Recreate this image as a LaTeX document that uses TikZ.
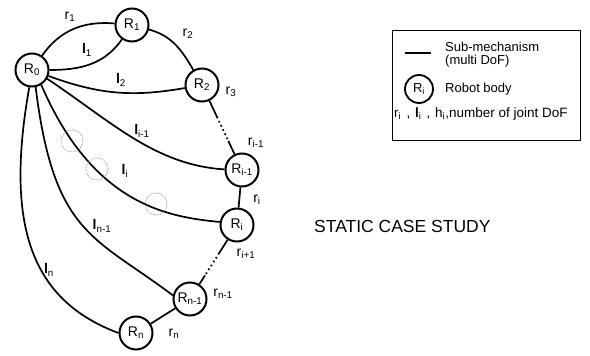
\documentclass[tikz,border=0pt]{standalone}
\usepackage{fontspec}
\setmainfont{Liberation Sans}
\newcommand{\sbs}[1]{\textsubscript{#1}}
\newcommand{\lnk}{\textbf{l}}
\begin{document}
\begin{tikzpicture}[x=1pt,y=-1pt,
 body/.style={circle,draw,line width=2pt,minimum size=33pt,inner sep=0pt,font=\fontsize{14}{14}\selectfont},
 link/.style={line width=1.7pt},
 dotline/.style={line width=1.8pt,dash pattern=on 1.6pt off 3pt},
 lbl/.style={font=\fontsize{14}{14}\selectfont, inner sep=0pt},
 dotc/.style={circle,draw=gray!80,densely dotted,line width=0.8pt,minimum size=22pt,inner sep=0pt},
 legtext/.style={anchor=west,inner sep=0pt,font=\fontsize{13}{13.5}\selectfont,align=left}]
\useasboundingbox (0,0) rectangle (590,356);
% bodies
\node[body] (R0) at (32,70) {R\sbs{0}};
\node[body] (R1) at (132,25) {R\sbs{1}};
\node[body] (R2) at (202,85) {R\sbs{2}};
\node[body] (Ri1) at (242,170) {R\sbs{i-1}};
\node[body] (Ri) at (237,225) {R\sbs{i}};
\node[body] (Rn1) at (190,299) {R\sbs{n-1}};
\node[body] (Rn) at (136,333) {R\sbs{n}};
% links
\draw[link] (R0) to[out=55,in=175] (R1);
\draw[link] (R0) to[out=0,in=235] (R1);
\draw[link] (R1) to[out=-15,in=120] (R2);
\draw[link] (R0) to[out=-20,in=190] (R2);
\draw[link] (R0.-30) .. controls (112,122) and (155,165) .. (Ri1.178);
\draw[link] (R0.-58) .. controls (93,205) and (168,217) .. (Ri.170);
\draw[link] (R0.-78) .. controls (54,235) and (94,236) .. (Rn1.168);
\draw[link] (R0.-99) .. controls (5,224) and (30,300) .. (Rn.180);
\draw[link] (Ri1) -- (Ri);
\draw[link] (Rn1) -- (Rn);
% partly dotted
\path (R2) -- coordinate[pos=0.3] (r3a) coordinate[pos=0.75] (r3b) (Ri1);
\draw[link] (R2) -- (r3a);
\draw[dotline] (r3a) -- (r3b);
\draw[link] (r3b) -- (Ri1);
\path (Ri) -- coordinate[pos=0.3] (rna) coordinate[pos=0.8] (rnb) (Rn1);
\draw[link] (Ri) -- (rna);
\draw[dotline] (rna) -- (rnb);
\draw[link] (rnb) -- (Rn1);
% dotted circles
\node[dotc] (c1) at (72,141) {};
\node[dotc] (c2) at (97,169) {};
\node[dotc] (c3) at (156,204) {};
% labels
\node[lbl] (lr1) at (70,17) {r\sbs{1}};
\node[lbl] (ll1) at (87,50) {\lnk\sbs{1}};
\node[lbl] (lr2) at (188,34) {r\sbs{2}};
\node[lbl] (ll2) at (121,80) {\lnk\sbs{2}};
\node[lbl] (lr3) at (231,92) {r\sbs{3}};
\node[lbl] (lli1) at (142,131) {\lnk\sbs{i-1}};
\node[lbl] (lri1) at (256,143) {r\sbs{i-1}};
\node[lbl] (lli) at (125,171) {\lnk\sbs{i}};
\node[lbl] (lri) at (257,200) {r\sbs{i}};
\node[lbl] (lrip) at (246,254) {r\sbs{i+1}};
\node[lbl] (lln1) at (102,226) {\lnk\sbs{n-1}};
\node[lbl] (lln) at (49,270) {\lnk\sbs{n}};
\node[lbl] (lrn1) at (223,294) {r\sbs{n-1}};
\node[lbl] (lrn) at (174,334) {r\sbs{n}};
% legend
\draw[line width=0.8pt] (392,30) rectangle (580,140);
\coordinate (lg1) at (405,53);
\coordinate (lg2) at (431,53);
\draw[link] (lg1) -- (lg2);
\node[legtext] (t1) at (445,47) {Sub-mechanism};
\node[legtext] (t1b) at (445,61) {(multi DoF)};
\node[body,minimum size=28pt,line width=1.8pt,font=\fontsize{13}{13}\selectfont] (lgR) at (419,89) {R\sbs{i}};
\node[legtext] (t2) at (445,89) {Robot body};
\node[legtext,font=\fontsize{13.5}{14}\selectfont] (t3) at (394,114) {r\sbs{i}\hspace{1.5pt} ,\hspace{1pt} \lnk\sbs{i}\hspace{1.5pt} ,\hspace{1pt} h\sbs{i},number of joint DoF};
% title
\node[anchor=west,inner sep=0pt,font=\fontsize{17.5}{17.5}\selectfont] (title) at (314,226) {STATIC CASE STUDY};
\end{tikzpicture}
\end{document}
